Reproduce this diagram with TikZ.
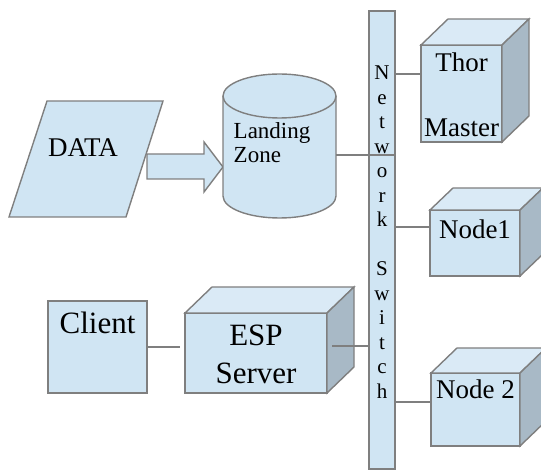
\documentclass[tikz,border=0pt]{standalone}
\usepackage{fontspec}
\setmainfont{Liberation Serif}
\newfontfamily\diafont{Liberation Serif}
\usetikzlibrary{calc}
\definecolor{cfill}{HTML}{D0E5F3}
\definecolor{ctop}{HTML}{DAEAF6}
\definecolor{cside}{HTML}{A8B9C6}
\definecolor{cline}{HTML}{7F7F7F}
\tikzset{
  every picture/.style={line width=1.4pt},
  face/.style={draw=cline, fill=cfill},
  front/.style={face, rectangle, inner sep=0pt, outer sep=0pt, align=center, anchor=north west},
  topface/.style={draw=cline, fill=ctop},
  sideface/.style={draw=cline, fill=cside},
  link/.style={draw=cline},
  bigtext/.style={font=\diafont\fontsize{31}{38}\selectfont},
  midtext/.style={font=\diafont\fontsize{27}{32}\selectfont},
  lztext/.style={font=\diafont\fontsize{23}{24}\selectfont},
  swtext/.style={font=\diafont\fontsize{21}{24.5}\selectfont},
}

\begin{document}
\begin{tikzpicture}[x=1pt, y=1pt]
  \useasboundingbox (0,0) rectangle (541,-470);
  % data and landing zone
  \draw[face] (47,-101) -- (163,-101) -- (126,-217) -- (9,-217) -- cycle;
  \node[midtext, anchor=base] (data) at (83,-157) {DATA};
  \draw[face] (147,-154) -- (204,-154) -- (204,-142) -- (223,-167) -- (204,-192) -- (204,-179) -- (147,-179) -- cycle;
  \draw[face] (223,-96) -- (223,-196) arc[start angle=180, end angle=360, x radius=56.5pt, y radius=22pt]
    -- (336,-96) arc[start angle=0, end angle=180, x radius=56.5pt, y radius=22pt] -- cycle;
  \draw[cline] (223,-96) arc[start angle=180, end angle=360, x radius=56.5pt, y radius=22pt];
  \node[lztext, align=left, anchor=north west, inner sep=0pt, text height=40pt] (lz) at (233,-122) {Landing\\Zone};
  \coordinate (lzout) at (336,-155);
  % network switch
  \node[front, swtext, anchor=north, minimum width=26pt, minimum height=458pt, text height=387pt, text depth=71pt] (sw) at (382,-11)
    {N\\e\\t\\w\\o\\r\\k\\[24.5pt]S\\w\\i\\t\\c\\h};
  % servers and client
  \node[front, midtext, minimum width=81pt, minimum height=97pt, text height=92pt, text depth=5pt] (thor) at (421,-45) {Thor\\[33pt]Master};
  \node[front, midtext, minimum width=90pt, minimum height=66pt, text height=29pt, text depth=37pt] (node1) at (430,-210) {Node1};
  \node[front, midtext, minimum width=89pt, minimum height=73pt, text height=25pt, text depth=48pt] (node2) at (431,-373) {Node 2};
  \node[front, bigtext, minimum width=142pt, minimum height=80pt, text height=70pt, text depth=10pt] (esp) at (185,-313) {ESP\\Server};
  \node[front, bigtext, minimum width=99pt, minimum height=92pt, text height=33pt, text depth=59pt] (client) at (48,-301) {Client};
  \foreach \n/\dx/\dy in {thor/27/26, node1/23/22, node2/26/25, esp/27/26} {
    \draw[topface] (\n.north west) -- ++(\dx,\dy) -- ($(\n.north east)+(\dx,\dy)$) -- (\n.north east) -- cycle;
    \draw[sideface] (\n.north east) -- ($(\n.north east)+(\dx,\dy)$) -- ($(\n.south east)+(\dx,\dy)$) -- (\n.south east) -- cycle;
  }
  % links to the switch
  \coordinate (thorin) at ([yshift=19.5pt]thor.west);
  \coordinate (node1in) at ([yshift=16pt]node1.west);
  \coordinate (node2in) at ([yshift=7.5pt]node2.west);
  \coordinate (espout) at ([shift={(5pt,7pt)}]esp.east);
  \coordinate (espin) at ([xshift=-5pt]esp.west);
  \draw[link] (lzout) -- (lzout -| sw.east);
  \draw[link] (thorin) -- (thorin -| sw.east);
  \draw[link] (node1in) -- (node1in -| sw.east);
  \draw[link] (node2in) -- (node2in -| sw.east);
  \draw[link] (espout) -- (espout -| sw.west);
  \draw[link] (client.east) -- (espin |- client.east);
\end{tikzpicture}
\end{document}
